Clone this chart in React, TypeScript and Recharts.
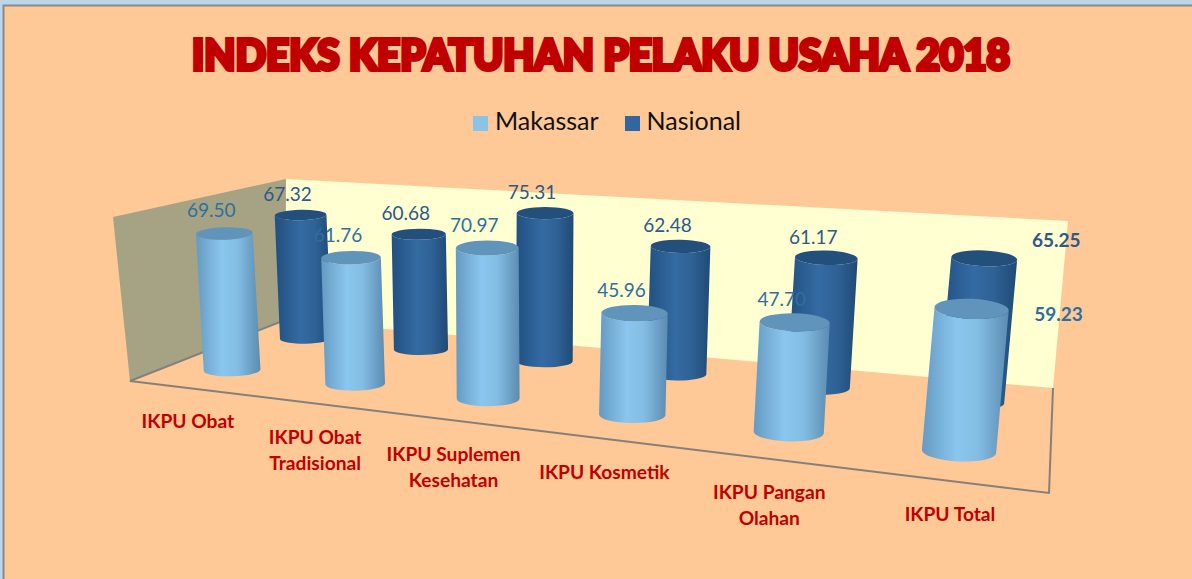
import { Bar, BarChart, LabelList, Legend, XAxis, YAxis, usePlotArea } from "recharts"

const categories = [
  "IKPU Obat",
  "IKPU Obat\nTradisional",
  "IKPU Suplemen\nKesehatan",
  "IKPU Kosmetik",
  "IKPU Pangan\nOlahan",
  "IKPU Total",
]
const makassar = [69.5, 61.76, 70.97, 45.96, 47.7, 59.23]
const nasional = [67.32, 60.68, 75.31, 62.48, 61.17, 65.25]
const yMax = 80

const data = categories.map((name, i) => ({ name, Makassar: makassar[i], Nasional: nasional[i] }))

type Pt = [number, number]

// 3D box corners, order: (0,0) (1,0) (1,1) (0,1) as (along, depth)
const floorQuad: Pt[] = [[130, 381], [1049, 493], [1053, 388], [285, 320]]
const topQuad: Pt[] = [[113, 217], [1067, 283], [1068, 221], [286, 179]]

function makeHomography(q: Pt[]) {
  const [[x0, y0], [x1, y1], [x2, y2], [x3, y3]] = q
  const dx1 = x1 - x2
  const dx2 = x3 - x2
  const sx = x0 - x1 + x2 - x3
  const dy1 = y1 - y2
  const dy2 = y3 - y2
  const sy = y0 - y1 + y2 - y3
  const den = dx1 * dy2 - dx2 * dy1
  const g = (sx * dy2 - dx2 * sy) / den
  const h = (dx1 * sy - sx * dy1) / den
  const a = x1 - x0 + g * x1
  const b = x3 - x0 + h * x3
  const d = y1 - y0 + g * y1
  const e = y3 - y0 + h * y3
  return {
    at(u: number, v: number): Pt {
      const w = g * u + h * v + 1
      return [(a * u + b * v + x0) / w, (d * u + e * v + y0) / w]
    },
    scale(u: number, v: number) {
      return 1 / (g * u + h * v + 1)
    },
  }
}

const floor = makeHomography(floorQuad)

const FRONT = 0.25
const BACK = 0.75
const WALL_HEIGHT = 160 // px for the full y range at the near-left corner
const BAR_REF_SCALE = 204 // wall height at which a cylinder is drawn at full barSize

// the plain homography bunches the middle columns to the left, nudge them
function warp(u: number) {
  return u + 0.08 * u * (1 - u)
}

// screen geometry of one cylinder
function cylinderAt(u0: number, depth: number, h: number, barWidth: number) {
  const u = warp(u0)
  const base = floor.at(u, depth)
  const s = floor.scale(u, depth)
  const lean = (base[0] - 518) * 0.0002
  const rise = WALL_HEIGHT * Math.pow(s, 0.75) * h
  const top: Pt = [base[0] + lean * rise, base[1] - rise]
  const rx = (barWidth / 2) * ((WALL_HEIGHT * s) / BAR_REF_SCALE)
  const ry = Math.abs(floor.at(u, depth - 0.09)[1] - floor.at(u, depth + 0.09)[1]) / 2
  const rot = (Math.atan(lean) * 0.5 * 180) / Math.PI
  return { base, top, rx, ry, rot }
}

function usePlot() {
  return usePlotArea() ?? { x: 0, y: 0, width: 1192, height: 579 }
}

function Cylinder({ x, width, height, depth, body, cap }: any) {
  const plot = usePlot()
  const u = (x + width / 2 - plot.x) / plot.width
  const { base, top, rx, ry, rot } = cylinderAt(u, depth, height / plot.height, width)
  const c = Math.cos((rot * Math.PI) / 180) * rx
  const s = Math.sin((rot * Math.PI) / 180) * rx
  const d = [
    `M${top[0] - c} ${top[1] - s}`,
    `L${base[0] - c} ${base[1] - s}`,
    `A${rx} ${ry} ${rot} 0 0 ${base[0] + c} ${base[1] + s}`,
    `L${top[0] + c} ${top[1] + s}`,
    `A${rx} ${ry} ${rot} 0 1 ${top[0] - c} ${top[1] - s}`,
    "Z",
  ].join(" ")
  return (
    <g>
      <path d={d} fill={`url(#${body})`} />
      <ellipse cx={top[0]} cy={top[1]} rx={rx} ry={ry} fill={cap} transform={`rotate(${rot} ${top[0]} ${top[1]})`} />
    </g>
  )
}

function BarLabel({ x, y, width, height, value, index, depth, color, lastShift, lift }: any) {
  const plot = usePlot()
  const u = (x + width / 2 - plot.x) / plot.width
  const { top } = cylinderAt(u, depth, height / plot.height, width)
  const isLast = index === categories.length - 1
  const px = isLast ? top[0] + lastShift[0] : top[0] - 13
  const py = isLast ? top[1] + lastShift[1] : top[1] - lift
  return (
    <text x={px} y={py + 6} textAnchor="middle" fill={color} fontSize={19} fontWeight={isLast ? 700 : 400} fontFamily="Lato">
      {Number(value).toFixed(2)}
    </text>
  )
}

function CategoryTick({ x, payload }: any) {
  const plot = usePlot()
  const u = (x - plot.x) / plot.width
  const p = floor.at(warp(u), 0)
  const lines = String(payload.value).split("\n")
  return (
    <text x={p[0] - 2} y={p[1] + 40} textAnchor="middle" fill="#c00000" fontSize={19.2} fontWeight={700} fontFamily="Lato">
      {lines.map((line, i) => (
        <tspan key={line} x={p[0] - 2} dy={i === 0 ? 0 : 26}>
          {line}
        </tspan>
      ))}
    </text>
  )
}

export default function App() {
  return (
    <div style={{ position: "fixed", left: 0, top: 0, width: 1192, height: 579, overflow: "hidden", background: "#bdd5e9" }}>
      <svg width={1192} height={579} style={{ position: "absolute", left: 0, top: 0 }}>
        <rect x={3.5} y={5.5} width={1200} height={600} fill="#fec996" stroke="#8a8a8a" strokeWidth={2} />
        <polygon points={`${topQuad[3].join(",")} ${topQuad[2].join(",")} ${floorQuad[2].join(",")} ${floorQuad[3].join(",")}`} fill="#ffffd2" />
        <polygon points={`${topQuad[0].join(",")} ${topQuad[3].join(",")} ${floorQuad[3].join(",")} ${floorQuad[0].join(",")}`} fill="#a5a384" />
        <polyline
          points={`${floorQuad[3].join(",")} ${floorQuad[0].join(",")} ${floorQuad[1].join(",")} ${floorQuad[2].join(",")}`}
          fill="none"
          stroke="#85807c"
          strokeWidth={2}
        />
        <text
          x={601}
          y={70}
          textAnchor="middle"
          textLength={818}
          lengthAdjust="spacingAndGlyphs"
          fontFamily="Lato"
          fontWeight={900}
          fontSize={42}
          fill="#c00000"
          stroke="#c00000"
          strokeWidth={4}
        >
          INDEKS KEPATUHAN PELAKU USAHA 2018
        </text>
      </svg>
      <div style={{ position: "absolute", left: 0, top: 0 }}>
        <BarChart width={1192} height={579} data={data} margin={{ top: 0, right: 0, bottom: 0, left: 0 }}>
          <defs>
            <linearGradient id="bodyMakassar" x1="0" y1="0" x2="1" y2="0">
              <stop offset="0%" stopColor="#659ac2" />
              <stop offset="40%" stopColor="#8ac6ee" />
              <stop offset="65%" stopColor="#83bde4" />
              <stop offset="100%" stopColor="#5c8bb0" />
            </linearGradient>
            <linearGradient id="bodyNasional" x1="0" y1="0" x2="1" y2="0">
              <stop offset="0%" stopColor="#214f7f" />
              <stop offset="45%" stopColor="#346ba3" />
              <stop offset="70%" stopColor="#2f6296" />
              <stop offset="100%" stopColor="#1f4a75" />
            </linearGradient>
          </defs>
          <XAxis xAxisId="back" dataKey="name" hide />
          <XAxis
            xAxisId="front"
            dataKey="name"
            axisLine={false}
            tickLine={false}
            interval={0}
            height={20}
            tick={<CategoryTick />}
          />
          <YAxis yAxisId={0} domain={[0, yMax]} hide />
          <Legend
            verticalAlign="top"
            iconType="square"
            iconSize={15}
            wrapperStyle={{ top: 105, left: 24, fontFamily: "Lato", fontSize: 25 }}
            formatter={(value: string) => <span style={{ color: "#111", marginLeft: 3, marginRight: 16 }}>{value}</span>}
          />
          <Bar
            dataKey="Nasional"
            xAxisId="back"
            fill="#33669e"
            barSize={74}
            isAnimationActive={false}
            shape={(p: any) => <Cylinder {...p} depth={BACK} body="bodyNasional" cap="#234f7d" />}
          >
            <LabelList content={(p: any) => <BarLabel {...p} depth={BACK} color="#2a5a8a" lastShift={[72, -17]} lift={20} />} />
          </Bar>
          <Bar
            dataKey="Makassar"
            xAxisId="front"
            fill="#8ac3e8"
            barSize={74}
            isAnimationActive={false}
            shape={(p: any) => <Cylinder {...p} depth={FRONT} body="bodyMakassar" cap="#6194bb" />}
          >
            <LabelList content={(p: any) => <BarLabel {...p} depth={FRONT} color="#2e6f9f" lastShift={[87, 6]} lift={22} />} />
          </Bar>
        </BarChart>
      </div>
    </div>
  )
}
